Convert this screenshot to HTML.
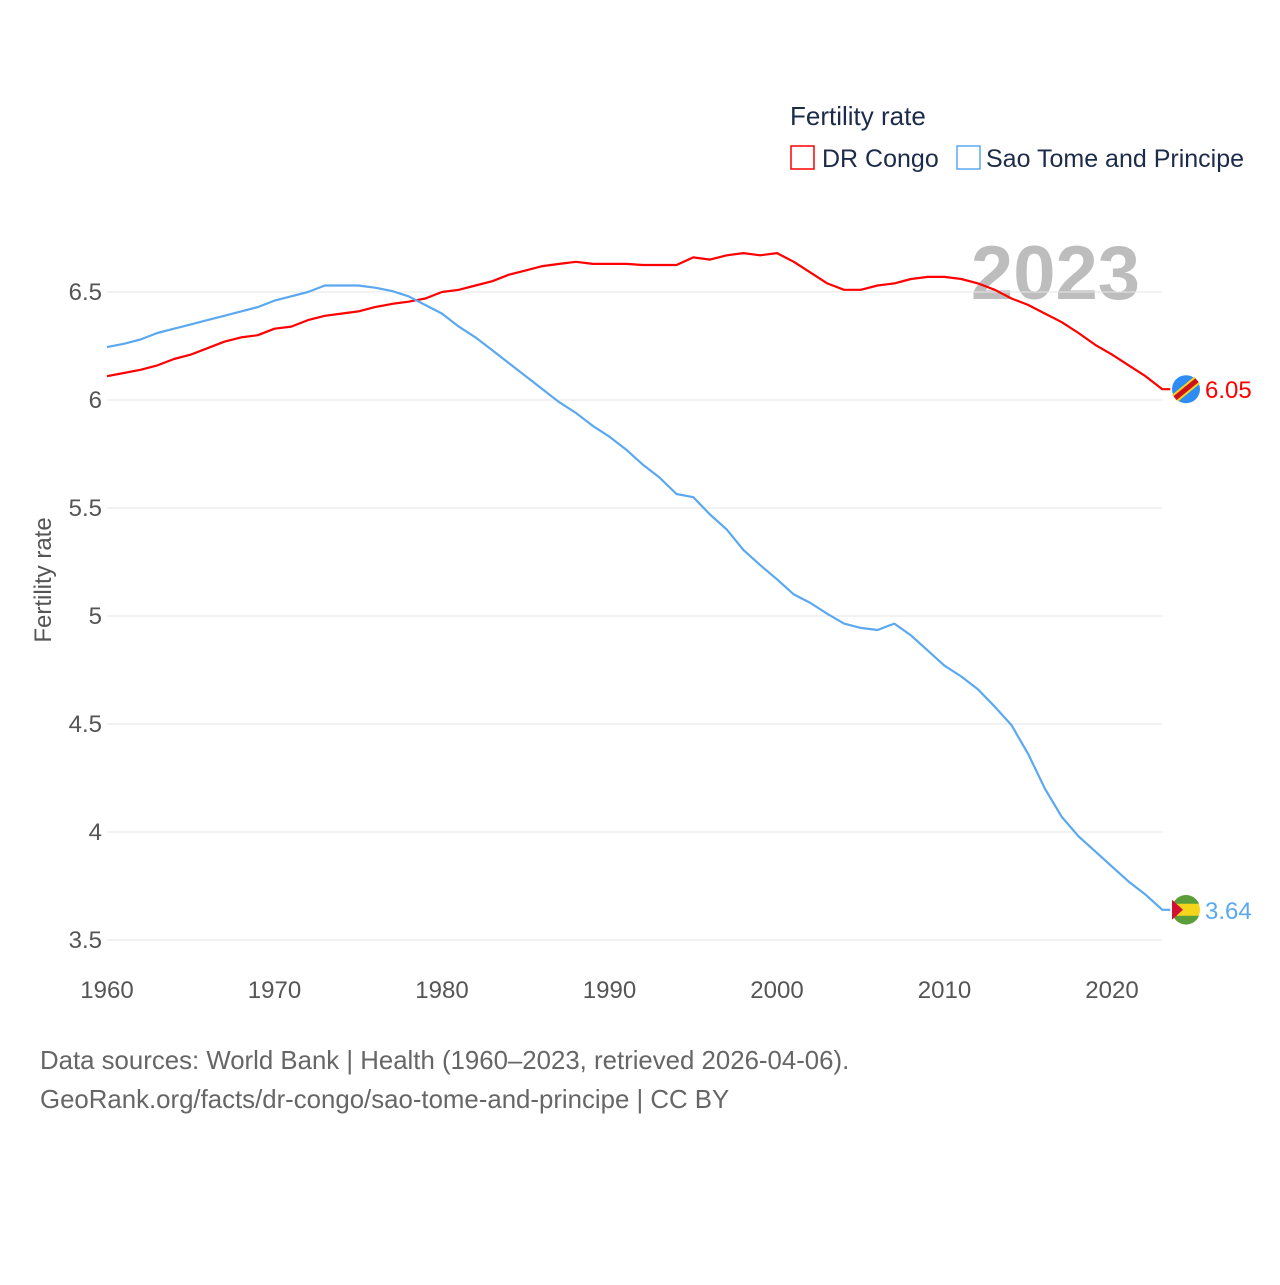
<!DOCTYPE html>
<html><head><meta charset="utf-8"><style>
body{margin:0;background:#fff;font-family:"Liberation Sans",sans-serif}
svg text{font-family:"Liberation Sans",sans-serif}
</style></head><body>
<svg id="chart" width="1280" height="1280" viewBox="0 0 1280 1280">
<text x="790" y="125" font-size="26" fill="#1d2b4a">Fertility rate</text>
<rect x="791" y="146" width="23" height="23" fill="none" stroke="#f00" stroke-width="1.5"/>
<text x="822" y="167" font-size="25" fill="#1d2b4a">DR Congo</text>
<rect x="957" y="146" width="23" height="23" fill="none" stroke="#5aa9f0" stroke-width="1.5"/>
<text x="986" y="167" font-size="25" fill="#1d2b4a">Sao Tome and Principe</text>
<text x="1140" y="299" font-size="76" font-weight="bold" fill="#bdbdbd" text-anchor="end">2023</text>
<g id="grid"></g>
<text transform="translate(51,580) rotate(-90)" font-size="24" fill="#555" text-anchor="middle">Fertility rate</text>
<g id="series"></g>
<text x="40" y="1069" font-size="25.8" fill="#666">Data sources: World Bank | Health (1960–2023, retrieved 2026-04-06).</text>
<text x="40" y="1108" font-size="25.8" fill="#666">GeoRank.org/facts/dr-congo/sao-tome-and-principe | CC BY</text>
</svg>
<script>
const years=[];for(let y=1960;y<=2023;y++)years.push(y);
const drCongo=[6.11,6.125,6.14,6.16,6.19,6.21,6.24,6.27,6.29,6.30,6.33,6.34,6.37,6.39,6.40,6.41,6.43,6.445,6.455,6.47,6.50,6.51,6.53,6.55,6.58,6.60,6.62,6.63,6.64,6.63,6.63,6.63,6.625,6.625,6.625,6.66,6.65,6.67,6.68,6.67,6.68,6.64,6.59,6.54,6.51,6.51,6.53,6.54,6.56,6.57,6.57,6.56,6.54,6.51,6.47,6.44,6.40,6.36,6.31,6.255,6.21,6.16,6.11,6.05];
const saoTome=[6.245,6.26,6.28,6.31,6.33,6.35,6.37,6.39,6.41,6.43,6.46,6.48,6.50,6.53,6.53,6.53,6.52,6.505,6.48,6.44,6.40,6.34,6.29,6.23,6.17,6.11,6.05,5.99,5.94,5.88,5.83,5.77,5.70,5.64,5.565,5.55,5.47,5.40,5.305,5.235,5.17,5.10,5.06,5.01,4.965,4.945,4.935,4.965,4.91,4.84,4.77,4.72,4.66,4.58,4.495,4.36,4.20,4.07,3.98,3.91,3.84,3.77,3.71,3.64];
const yTicks=[3.5,4,4.5,5,5.5,6,6.5];
const xTicks=[1960,1970,1980,1990,2000,2010,2020];
const endLabels=["6.05","3.64"];
const X=y=>107+(y-1960)*16.75;
const Y=v=>292+(6.5-v)*216;
const NS="http://www.w3.org/2000/svg";
const grid=document.getElementById('grid'),series=document.getElementById('series');
function mk(tag,attrs,parent,txt){const e=document.createElementNS(NS,tag);for(const k in attrs)e.setAttribute(k,attrs[k]);if(txt!==undefined)e.textContent=txt;parent.appendChild(e);return e;}
yTicks.forEach(t=>{
 const l=mk('line',{x1:107,x2:1162,y1:Y(t),y2:Y(t),stroke:'#e6e6e6','stroke-width':1},grid);
 
 
 const tx=mk('text',{x:102,y:Y(t)+8,'font-size':24,fill:'#555','text-anchor':'end'},grid,String(t));
 
 
});
xTicks.forEach(t=>{
 const tx=mk('text',{x:X(t),y:998,'font-size':24,fill:'#555','text-anchor':'middle'},grid,String(t));
 
 
});
function line(data,color,name,label,flag){
 const d=data.map((v,i)=>(i?'L':'M')+X(years[i]).toFixed(1)+','+Y(v).toFixed(1)).join('')+'h8';
 const p=mk('path',{d:d,fill:'none',stroke:color,'stroke-width':2.2,'stroke-linejoin':'round'},series);
 
 
 const ly=Y(data[data.length-1]);
 const g=mk('g',{},series);
 
 
 flag(g,1186,ly);
 const t=mk('text',{x:1205,y:ly+9,'font-size':24,fill:color},series,label);
 
 
}
line(drCongo,'#ff0000','dr-congo',endLabels[0],(g,cx,cy)=>{
 mk('circle',{cx:cx,cy:cy,r:14,fill:'#2f8cf5'},g);
 mk('line',{x1:cx-11,y1:cy+9,x2:cx+11,y2:cy-9,stroke:'#f7d618','stroke-width':9},g);
 mk('line',{x1:cx-11,y1:cy+9,x2:cx+11,y2:cy-9,stroke:'#ce1021','stroke-width':5},g);
});
line(saoTome,'#5aa9f0','sao-tome',endLabels[1],(g,cx,cy)=>{
 mk('circle',{cx:cx,cy:cy,r:14,fill:'#f5d51b'},g);
 mk('path',{d:`M${cx-13},${cy-6}A14,14 0 0 1 ${cx+13},${cy-6}Z`,fill:'#5a9e3a'},g);
 mk('path',{d:`M${cx-13},${cy+6}L${cx+13},${cy+6}A14,14 0 0 1 ${cx-13},${cy+6}Z`,fill:'#5a9e3a'},g);
 mk('path',{d:`M${cx-14},${cy-10}L${cx-3},${cy}L${cx-14},${cy+10}Z`,fill:'#d21034'},g);
});
</script>
</body></html>
